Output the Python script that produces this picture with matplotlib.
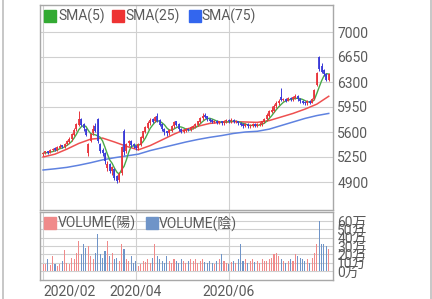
import matplotlib
matplotlib.use('Agg')
import matplotlib.pyplot as plt
from matplotlib.lines import Line2D
from matplotlib.patches import Rectangle
import numpy as np
import pandas as pd

plt.rcParams['font.family'] = ['Roboto', 'Noto Sans CJK JP', 'DejaVu Sans']

# trading-day index of the first session of each labelled month
month_ticks = [0, 39, 78]
month_labels = ['2020/02', '2020/04', '2020/06']

opens = [5290, 5310, 5330, 5310, 5350, 5370, 5350, 5380, 5410, 5390,
         5430, 5460, 5500, 5560, 5640, 5700, 5780, 5700, 5640, 5300,
         5480, 5580, 5680, 5780, 5420, 5340, 5300, 5100, 5140, 5050,
         5080, 4980, 4930, 5020, 5600, 5330, 5440, 5470, 5420, 5400,
         5370, 5420, 5520, 5600, 5660, 5720, 5780, 5760, 5820, 5760,
         5700, 5640, 5600, 5580, 5620, 5680, 5740, 5700, 5640, 5600,
         5620, 5640, 5630, 5660, 5680, 5700, 5740, 5790, 5830, 5810,
         5780, 5760, 5740, 5750, 5730, 5740, 5720, 5750, 5760, 5750,
         5760, 5740, 5750, 5720, 5700, 5690, 5700, 5680, 5690, 5700,
         5690, 5700, 5710, 5740, 5780, 5830, 5880, 5900, 5960, 6000,
         6080, 6050, 6060, 6040, 6070, 6060, 6080, 6100, 6060, 6030,
         6010, 6000, 6030, 6010, 6060, 6260, 6640, 6520, 6460, 6410,
         6330]
closes = [5300, 5320, 5310, 5340, 5360, 5350, 5380, 5400, 5390, 5430,
          5460, 5500, 5560, 5620, 5700, 5780, 5700, 5650, 5560, 5420,
          5560, 5640, 5620, 5480, 5330, 5300, 5200, 5150, 5060, 5100,
          4960, 4920, 5010, 5380, 5320, 5420, 5460, 5420, 5400, 5380,
          5420, 5520, 5600, 5660, 5720, 5760, 5740, 5800, 5760, 5700,
          5640, 5600, 5580, 5620, 5680, 5730, 5700, 5640, 5600, 5620,
          5640, 5630, 5660, 5680, 5700, 5740, 5790, 5820, 5810, 5780,
          5760, 5740, 5750, 5730, 5740, 5720, 5750, 5760, 5750, 5760,
          5740, 5750, 5720, 5700, 5690, 5700, 5680, 5690, 5700, 5690,
          5700, 5710, 5740, 5780, 5830, 5880, 5900, 5960, 6000, 6020,
          6050, 6060, 6040, 6070, 6060, 6080, 6100, 6060, 6030, 6010,
          6000, 6030, 6010, 6060, 6180, 6420, 6480, 6440, 6410, 6330,
          6400]
highs = [5320, 5340, 5340, 5360, 5380, 5390, 5400, 5430, 5420, 5450,
         5490, 5530, 5580, 5650, 5730, 5900, 5800, 5720, 5660, 5450,
         5580, 5700, 5720, 5800, 5440, 5380, 5320, 5200, 5160, 5130,
         5100, 5000, 5040, 5400, 5640, 5450, 5490, 5490, 5440, 5420,
         5440, 5540, 5620, 5690, 5750, 5800, 5790, 5820, 5870, 5780,
         5720, 5660, 5620, 5640, 5700, 5760, 5760, 5720, 5660, 5640,
         5660, 5660, 5680, 5700, 5720, 5760, 5810, 5870, 5860, 5830,
         5800, 5780, 5770, 5770, 5760, 5760, 5770, 5780, 5780, 5790,
         5780, 5770, 5760, 5740, 5720, 5720, 5720, 5710, 5720, 5720,
         5720, 5740, 5760, 5800, 5860, 5910, 5960, 5990, 6040, 6060,
         6210, 6080, 6080, 6090, 6090, 6100, 6130, 6120, 6080, 6050,
         6030, 6050, 6050, 6080, 6200, 6440, 6660, 6560, 6480, 6430,
         6420]
lows = [5270, 5290, 5290, 5300, 5330, 5330, 5340, 5370, 5370, 5380,
        5420, 5450, 5480, 5540, 5620, 5690, 5680, 5620, 5540, 5260,
        5460, 5560, 5600, 5450, 5300, 5260, 5150, 5050, 5020, 5000,
        4930, 4880, 4900, 5000, 5280, 5300, 5400, 5390, 5380, 5350,
        5350, 5410, 5500, 5580, 5640, 5700, 5720, 5740, 5740, 5680,
        5620, 5560, 5540, 5560, 5600, 5660, 5680, 5620, 5580, 5580,
        5600, 5610, 5610, 5640, 5660, 5680, 5720, 5770, 5790, 5760,
        5740, 5720, 5720, 5710, 5710, 5700, 5700, 5730, 5730, 5730,
        5720, 5720, 5700, 5680, 5660, 5670, 5660, 5660, 5670, 5670,
        5670, 5680, 5690, 5720, 5760, 5810, 5860, 5880, 5940, 5980,
        6030, 6030, 6020, 6030, 6040, 6040, 6060, 6040, 6010, 5990,
        5980, 5980, 5990, 6000, 6050, 6250, 6460, 6420, 6380, 6310,
        6320]
# volume in units of 10,000 shares (万)
volumes = [8, 9, 14, 7, 18, 8, 6, 9, 12, 25,
           10, 9, 16, 14, 22, 36, 20, 32, 28, 30,
           18, 14, 22, 44, 20, 16, 24, 36, 18, 22,
           14, 16, 12, 32, 26, 14, 12, 18, 10, 12,
           6, 8, 12, 11, 14, 10, 16, 32, 18, 14,
           12, 10, 18, 12, 10, 14, 12, 10, 14, 12,
           10, 12, 15, 12, 14, 10, 12, 14, 11, 10,
           12, 10, 9, 12, 14, 21, 12, 10, 9, 11,
           12, 10, 14, 32, 12, 14, 10, 12, 14, 11,
           12, 10, 14, 12, 12, 14, 16, 20, 22, 18,
           14, 12, 10, 12, 14, 12, 20, 18, 16, 14,
           12, 14, 10, 16, 22, 32, 60, 33, 32, 30,
           26]

# longer moving averages every 5 sessions
sma_days = list(range(0, 121, 5))
sma25 = [5250, 5290, 5360, 5440, 5500, 5515, 5460, 5400, 5350, 5410,
         5490, 5570, 5640, 5680, 5720, 5735, 5745, 5740, 5735, 5760,
         5810, 5860, 5920, 5990, 6100]
sma75 = [5068, 5085, 5105, 5135, 5170, 5210, 5240, 5265, 5290, 5340,
         5380, 5420, 5460, 5495, 5525, 5550, 5580, 5600, 5610, 5640,
         5690, 5740, 5790, 5830, 5860]

price_ticks = [4900, 5250, 5600, 5950, 6300, 6650, 7000]
volume_ticks = [0, 10, 20, 30, 40, 50, 60]
volume_labels = ['0万', '10万', '20万', '30万', '40万', '50万', '60万']

days = np.arange(len(closes))
o = np.array(opens)
c = np.array(closes)
h = np.array(highs)
l = np.array(lows)
up = c >= o
sma5 = pd.Series(closes).rolling(5, min_periods=1).mean()

text_color = '#5a5a5a'
grid_color = '#d0d0d0'
frame_color = '#a8a8a8'
candle_up, candle_down = '#e8343c', '#3a3ad8'
vol_up, vol_down = '#f08a8a', '#6f94c8'
col5, col25, col75 = '#4aa84a', '#ee5050', '#5f82e0'

W, H = 432, 299
fig = plt.figure(figsize=(W / 100, H / 100), dpi=100)
ax = fig.add_axes([40 / W, 1 - 210 / H, 293 / W, 205 / H])
axv = fig.add_axes([40 / W, 1 - 280 / H, 293 / W, 68 / H])

for a in (ax, axv):
    a.set_xlim(-1.3, 121.8)
    a.set_xticks(month_ticks)
    a.grid(True, color=grid_color, linewidth=0.8)
    a.set_axisbelow(True)
    for s in a.spines.values():
        s.set_color(frame_color)
        s.set_linewidth(1.0)
    a.yaxis.tick_right()
    a.tick_params(length=0, colors=text_color, labelsize=10, pad=3)

# price panel
ax.set_ylim(4508, 7378)
ax.set_yticks(price_ticks)
ax.set_xticklabels([])
ax.plot(sma_days, sma75, color=col75, linewidth=1.1)
ax.plot(sma_days, sma25, color=col25, linewidth=1.1)
ax.plot(days, sma5, color=col5, linewidth=1.0)
ccol = np.where(up, candle_up, candle_down)
ax.vlines(days, l, h, colors=ccol, linewidth=0.7)
ax.vlines(days, np.minimum(o, c), np.maximum(o, c) + 8, colors=ccol, linewidth=1.3)

# volume panel
axv.set_ylim(-10.8, 70.8)
axv.set_yticks(volume_ticks)
axv.set_yticklabels(volume_labels)
axv.bar(days, volumes, width=0.45, color=np.where(up, vol_up, vol_down), linewidth=0)
axv.set_xticklabels(month_labels)
axv.get_xticklabels()[0].set_horizontalalignment('left')

# legends drawn in pixel positions
def px_square(x, y, color):
    fig.patches.append(Rectangle((x / W, 1 - (y + 12) / H), 12 / W, 12 / H,
                                 transform=fig.transFigure, color=color))

def px_text(x, y, s):
    fig.text(x / W, 1 - y / H, s, color=text_color, fontsize=10, va='center', ha='left')

px_square(44, 10, '#33aa33')
px_text(58, 16, 'SMA(5)')
px_square(112, 10, '#ee3333')
px_text(125, 16, 'SMA(25)')
px_square(189, 10, '#3366ee')
px_text(201, 16, 'SMA(75)')
px_square(44, 217, vol_up)
px_text(58, 223, 'VOLUME(陽)')
px_square(146, 217, vol_down)
px_text(159, 223, 'VOLUME(陰)')

for xf in (3 / W, 431 / W):
    fig.add_artist(Line2D([xf, xf], [0, 1], transform=fig.transFigure, color='#bdbdbd', linewidth=1.2))

fig.savefig('out.png', dpi=100)
